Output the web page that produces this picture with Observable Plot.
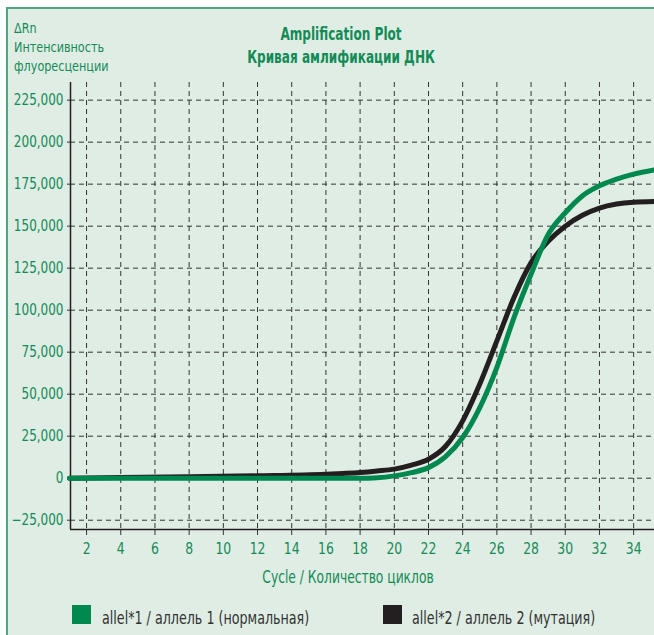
<!DOCTYPE html>
<html>
<head>
<meta charset="utf-8">
<script src="https://cdn.jsdelivr.net/npm/d3@7"></script>
<script src="https://cdn.jsdelivr.net/npm/@observablehq/plot@0.6"></script>
<style>
  html, body { margin: 0; padding: 0; background: #fff; }
  body { width: 654px; height: 635px; overflow: hidden; position: relative;
         font-family: "DejaVu Sans Condensed", "Liberation Sans Narrow", sans-serif; }
  #frame { position: absolute; left: 6px; top: 7px; width: 700px; height: 700px;
           background: #e0ede4; border-left: 2px solid #4fa67e; border-top: 2px solid #4fa67e; }
  .t { position: absolute; white-space: nowrap; }
  .green { color: #138b57; }
  #ylab { left: 14px; top: 19px; font-size: 14px; line-height: 19px; transform: scaleX(0.89); transform-origin: left top; }
  #title { left: 141px; width: 400px; top: 23px; text-align: center;
           font-size: 17px; font-weight: bold; line-height: 23px; transform: scaleX(0.79); transform-origin: center top; }
  #xlab { left: 148px; width: 400px; top: 567px; text-align: center; font-size: 17.5px; line-height: 20px;
          transform: scaleX(0.78); transform-origin: center top; }
  #plot { position: absolute; left: 0; top: 0; }
  .sw { position: absolute; width: 19px; height: 19px; top: 605px; }
  .legt { top: 608px; font-size: 17px; line-height: 20px; color: #333; transform: scaleX(0.83); transform-origin: left top; }
</style>
</head>
<body>
<div id="frame"></div>
<div id="ylab" class="t green">ΔRn<br>Интенсивность<br>флуоресценции</div>
<div id="title" class="t green">Amplification Plot<br>Кривая амлификации ДНК</div>
<div id="plot"></div>
<div id="xlab" class="t green">Cycle / Количество циклов</div>
<div class="sw" style="left:72px; background:#00894f"></div>
<div class="t legt" style="left:102px">allel*1 / аллель 1 (нормальная)</div>
<div class="sw" style="left:383px; background:#231f20"></div>
<div class="t legt" style="left:412px">allel*2 / аллель 2 (мутация)</div>
<script>
const cycles  = [1, 4, 8, 12, 16, 17, 18, 19, 20, 21, 22, 23, 24, 25, 26, 27, 28, 29, 30, 31, 32, 33, 34, 35.2];
const allel1  = [0, 0, 0, 0, 0, 0, 0, 300, 1400, 3300, 6300, 12800, 24200, 42000, 66000, 95600, 121400, 145000, 158000, 168000, 174000, 178000, 181000, 183500];
const allel2  = [0, 400, 900, 1400, 2300, 2800, 3400, 4300, 5400, 7800, 11300, 19000, 34100, 56000, 81700, 107500, 128300, 141000, 150000, 156500, 160800, 163200, 164300, 164700];
const xTicks  = [2, 4, 6, 8, 10, 12, 14, 16, 18, 20, 22, 24, 26, 28, 30, 32, 34];
const yTicks  = [-25000, 0, 25000, 50000, 75000, 100000, 125000, 150000, 175000, 200000, 225000];

const s1 = cycles.map((c, i) => ({c, v: allel1[i]}));
const s2 = cycles.map((c, i) => ({c, v: allel2[i]}));
const xDom = [1.06, 35.22];
const yDom = [-30530, 235500];
const green = "#138b57";
const grid = {stroke: "#333", strokeOpacity: 1, strokeWidth: 1, strokeDasharray: "5,4"};

const chart = Plot.plot({
  width: 654,
  height: 560,
  marginTop: 82,
  marginBottom: 31,
  marginLeft: 70,
  marginRight: 0,
  style: {background: "transparent", fontFamily: "'DejaVu Sans Condensed', sans-serif", overflow: "visible"},
  x: {domain: xDom},
  y: {domain: yDom},
  marks: [
    Plot.gridY(yTicks, grid),
    Plot.gridX(xTicks, grid),
    Plot.axisY(yTicks, {tickFormat: d3.format(","), tickSize: 3, tickPadding: 4, fontSize: 15, fill: green, stroke: "#333", label: null}),
    Plot.axisX(xTicks, {tickSize: 6, tickPadding: 7, fontSize: 15.5, fill: green, stroke: "#333", label: null}),
    Plot.ruleX([xDom[0]], {stroke: "#231f20", strokeWidth: 1.5}),
    Plot.ruleY([yDom[0]], {stroke: "#231f20", strokeWidth: 1.5}),
    Plot.line(s2, {x: "c", y: "v", stroke: "#231f20", strokeWidth: 5, curve: "monotone-x"}),
    Plot.line(s1, {x: "c", y: "v", stroke: "#00894f", strokeWidth: 5, curve: "monotone-x"})
  ]
});
// condense the tick labels horizontally (font is wider than the reference's condensed face)
chart.querySelectorAll("g[aria-label='y-axis tick label'] text, g[aria-label='x-axis tick label'] text").forEach(t => {
  const tr = t.getAttribute("transform") || "";
  t.setAttribute("transform", tr + " scale(0.89,1)");
});
document.getElementById("plot").appendChild(chart);
</script>
</body>
</html>
